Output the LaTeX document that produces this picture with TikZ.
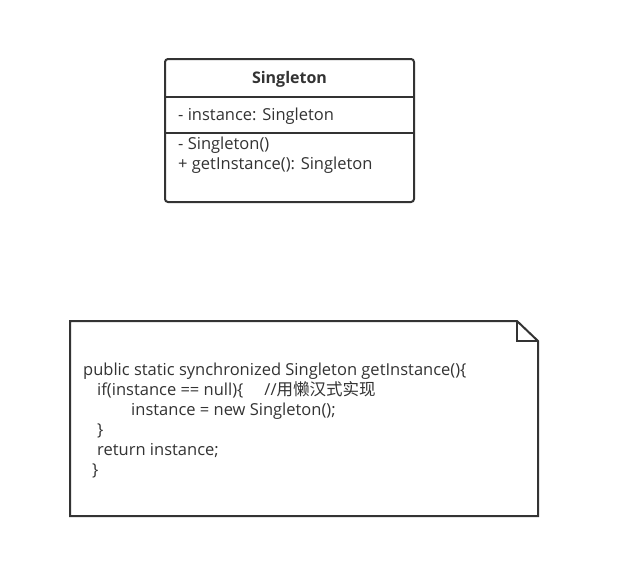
\documentclass[tikz,border=0pt]{standalone}
\usepackage{fontspec}
\setmainfont{Open Sans}
\newfontfamily\cjk{Noto Sans CJK SC}
\definecolor{linegray}{HTML}{333333}
\tikzset{
  umlline/.style={draw=linegray,line width=2pt},
  codeline/.style={anchor=base west,inner sep=0pt,text=linegray,font=\fontsize{16.5}{19}\selectfont},
}
\begin{document}
\begin{tikzpicture}[x=1pt,y=-1pt]
    \useasboundingbox[fill=white] (0,0) rectangle (621,582);
    % Class box
    \draw[umlline,rounded corners=3pt] (165,59) rectangle (414,202);
    \coordinate (divA) at (165,96.5);
    \coordinate (divB) at (165,132.5);
    \draw[umlline] (divA) -- ++(249,0);
    \draw[umlline] (divB) -- ++(249,0);
    \node[codeline,anchor=base,font=\fontsize{16}{19}\selectfont\bfseries] (title) at (289.5,83) {Singleton};
    \node[codeline] (attr) at (178,120.5) {- instance: Singleton};
    \node[codeline] (ctor) at (178,149.5) {- Singleton()};
    \node[codeline] (getter) at (178,169.5) {+ getInstance(): Singleton};
    % Note with folded corner
    \draw[umlline] (70,321) -- (517,321) -- (538,341) -- (538,516) -- (70,516) -- cycle;
    \draw[umlline] (517,321) -- (517,341) -- (538,341);
    \node[codeline] (code1) at (83,375) {public static synchronized Singleton getInstance()\{};
    \node[codeline] (code2) at (97,395) {if(instance == null)\{\hspace{21pt}//{\cjk 用懒汉式实现}};
    \node[codeline] (code3) at (131,415) {instance = new Singleton();};
    \node[codeline] (code4) at (97,435) {\}};
    \node[codeline] (code5) at (97,455) {return instance;};
    \node[codeline] (code6) at (92,475) {\}};
\end{tikzpicture}
\end{document}
